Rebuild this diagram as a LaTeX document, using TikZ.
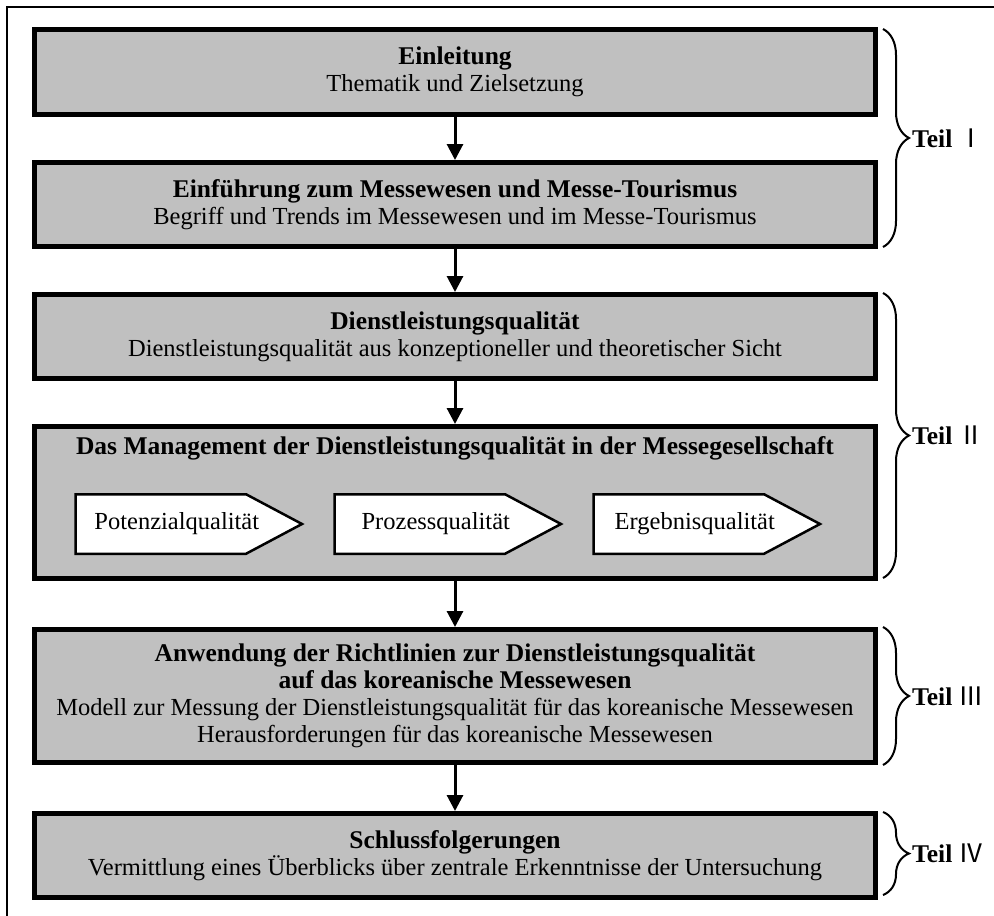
\documentclass[tikz,border=0pt]{standalone}
\usepackage{fontspec}
\setmainfont{Liberation Serif}
\newfontfamily\cjkfont{Noto Sans CJK SC}
\usetikzlibrary{arrows.meta,shapes.symbols,decorations.pathreplacing}
\definecolor{boxgray}{HTML}{C0C0C0}
\newcommand\headline[1]{{\fontsize{25.5}{27}\selectfont\bfseries #1}}
\begin{document}
\begin{tikzpicture}[x=1pt,y=-1pt,
  txt/.style={font=\fontsize{24.5}{27}\selectfont},
  mainbox/.style={draw=black, line width=5pt, fill=boxgray, minimum width=841pt,
    align=center, inner sep=0pt, txt},
  phase/.style={draw=black, line width=2.5pt, fill=white, shape=signal,
    signal to=east, signal pointer angle=56, minimum width=226.5pt,
    minimum height=59.5pt, inner sep=0pt, anchor=west},
  flow/.style={line width=3pt, -{Triangle[width=16pt,length=16pt]}},
  partbrace/.style={line width=2pt, decorate,
    decoration={brace, amplitude=26pt}},
  partlabel/.style={anchor=west, inner sep=0pt, font=\fontsize{25.5}{27}\selectfont}
]
\useasboundingbox (0,0) rectangle (994,916);

% frame (right and bottom sides lie beyond the page)
\draw[line width=2.5pt] (7,930) -- (7,7) -- (1000,7);

% chapter boxes
\node[mainbox, minimum height=85pt] (b1) at (455,72)
  {\headline{Einleitung}\\Thematik und Zielsetzung};
\node[mainbox, minimum height=84pt] (b2) at (455,204.5)
  {\headline{Einführung zum Messewesen und Messe-Tourismus}\\Begriff und Trends im Messewesen und im Messe-Tourismus};
\node[mainbox, minimum height=84pt] (b3) at (455,336.5)
  {\headline{Dienstleistungsqualität}\\Dienstleistungsqualität aus konzeptioneller und theoretischer Sicht};
\node[mainbox, minimum height=152pt] (b4) at (455,502.5) {};
\node[inner sep=0pt] (b4title) at (455,448)
  {\headline{Das Management der Dienstleistungsqualität in der Messegesellschaft}};
\node[mainbox, minimum height=133pt] (b5) at (455,696)
  {\headline{Anwendung der Richtlinien zur Dienstleistungsqualität}\\
   \headline{auf das koreanische Messewesen}\\
   Modell zur Messung der Dienstleistungsqualität für das koreanische Messewesen\\
   Herausforderungen für das koreanische Messewesen};
\node[mainbox, minimum height=84pt] (b6) at (455,855.5)
  {\headline{Schlussfolgerungen}\\Vermittlung eines Überblicks über zentrale Erkenntnisse der Untersuchung};

% quality phases
\node[phase] (p1) at (74.25,524) {};
\node[phase] (p2) at (333.25,524) {};
\node[phase] (p3) at (592.25,524) {};
\node[txt, inner sep=0pt] (p1t) at ([xshift=16pt]p1.center) {Potenzialqualität};
\node[txt, inner sep=0pt] (p2t) at ([xshift=16pt]p2.center) {Prozessqualität};
\node[txt, inner sep=0pt] (p3t) at ([xshift=16pt]p3.center) {Ergebnisqualität};

% flow arrows
\draw[flow] (b1.south) -- (b2.north);
\draw[flow] (b2.south) -- (b3.north);
\draw[flow] (b3.south) -- (b4.north);
\draw[flow] (b4.south) -- (b5.north);
\draw[flow] (b5.south) -- (b6.north);

% part braces
\coordinate (t1a) at (883,29);  \coordinate (t1b) at (883,247);
\coordinate (t2a) at (883,293); \coordinate (t2b) at (883,578);
\coordinate (t3a) at (883,627); \coordinate (t3b) at (883,765);
\coordinate (t4a) at (883,812); \coordinate (t4b) at (883,895);
\draw[partbrace] (t1a) -- (t1b);
\draw[partbrace] (t2a) -- (t2b);
\draw[partbrace] (t3a) -- (t3b);
\draw[partbrace] (t4a) -- (t4b);
\node[partlabel] (l1) at (912,138)   {\textbf{Teil} {\cjkfont Ⅰ}};
\node[partlabel] (l2) at (912,435.5) {\textbf{Teil} {\cjkfont Ⅱ}};
\node[partlabel] (l3) at (912,696)   {\textbf{Teil} {\cjkfont Ⅲ}};
\node[partlabel] (l4) at (912,853.5) {\textbf{Teil} {\cjkfont Ⅳ}};
\end{tikzpicture}
\end{document}
